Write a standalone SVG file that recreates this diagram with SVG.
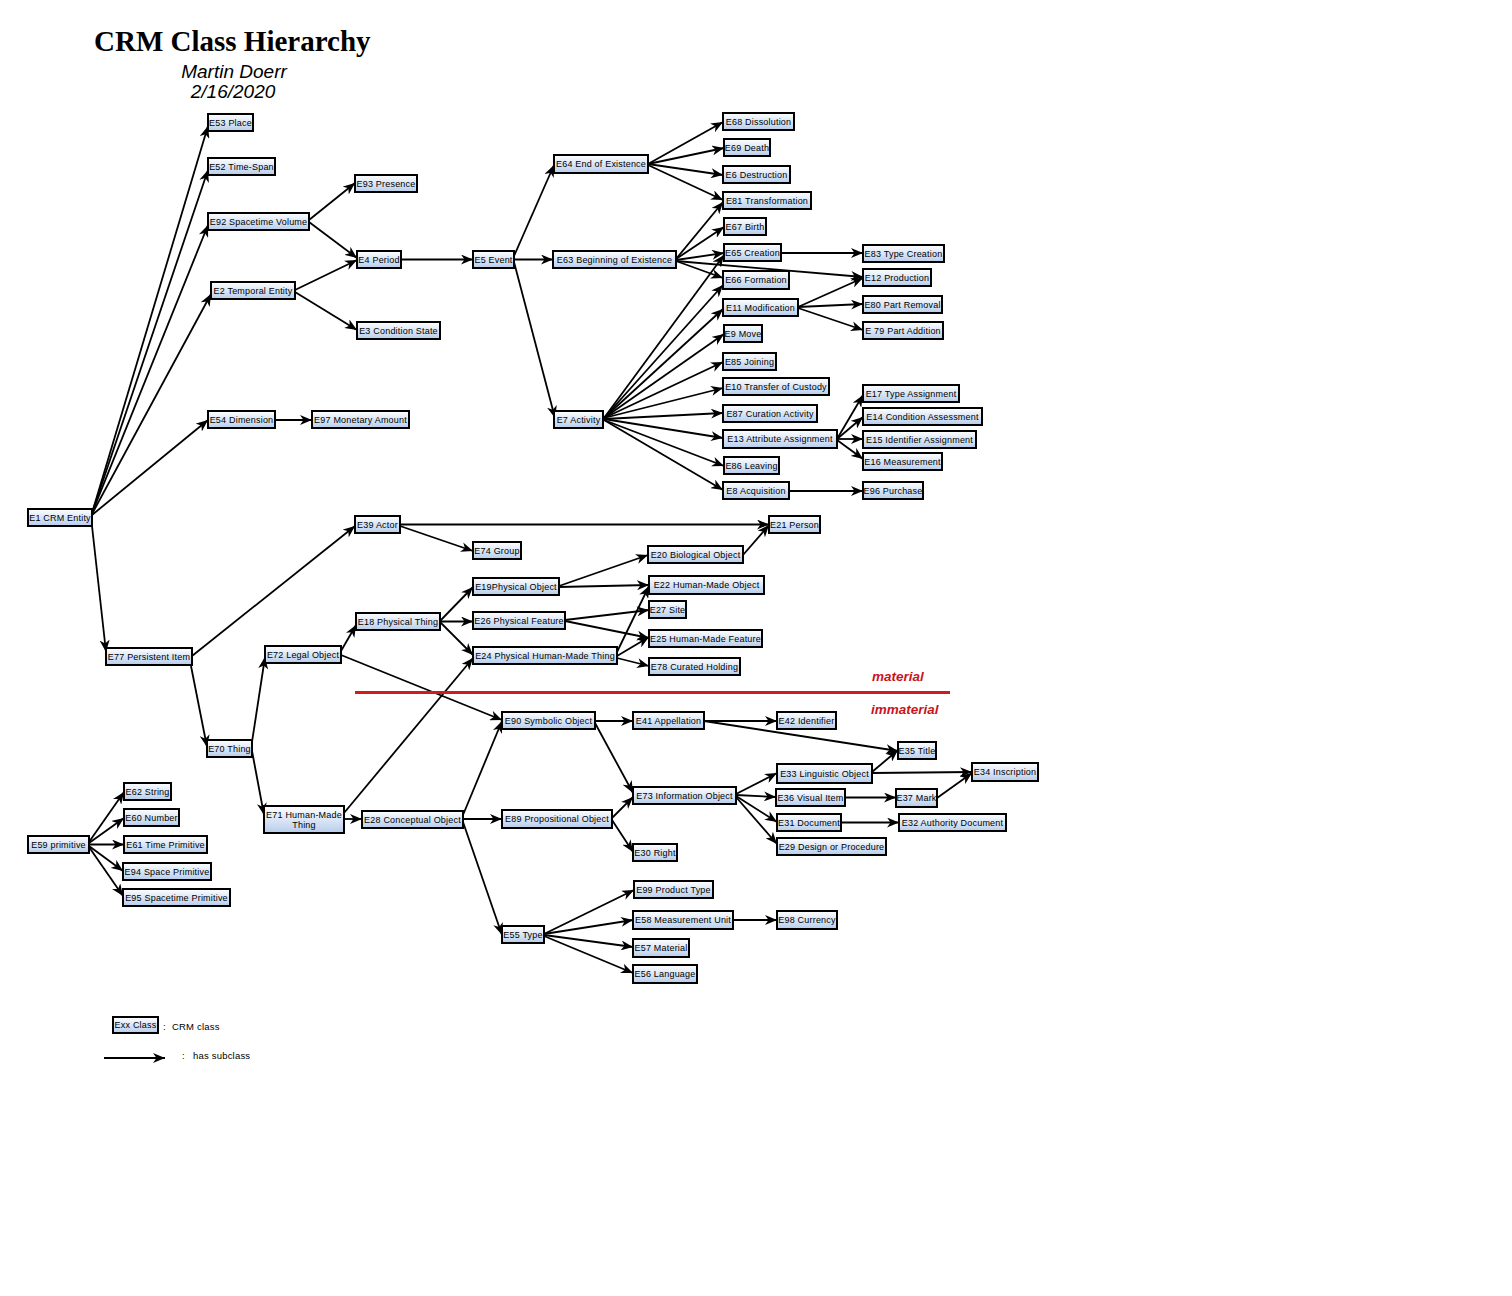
<svg xmlns="http://www.w3.org/2000/svg" width="1512" height="1296" viewBox="0 0 1512 1296">
<style>
.n rect{fill:url(#g);stroke:#000;stroke-width:2}
.n text,.lg{font-family:"Liberation Sans",Arial,sans-serif;font-size:9px;letter-spacing:0.2px;fill:#000;text-anchor:middle}
.lg{text-anchor:start;font-size:9.5px}
#connectors line,.ar{stroke:#000;stroke-width:1.8;fill:none;marker-end:url(#ah)}
.mat{font-family:"Liberation Sans",Arial,sans-serif;font-size:13.5px;font-weight:bold;font-style:italic;fill:#c8141c}
</style>
<defs>
<linearGradient id="g" x1="0" y1="0" x2="0" y2="1">
<stop offset="0" stop-color="#ffffff"/>
<stop offset="1" stop-color="#b7cdec"/>
</linearGradient>
<marker id="ah" viewBox="0 0 12 10" markerWidth="12" markerHeight="10" refX="12" refY="5" orient="auto" markerUnits="userSpaceOnUse">
<path d="M0,0 L12,5 L0,10 L3.5,5 z" fill="#000"/>
</marker>
</defs>
<rect width="1512" height="1296" fill="#fff"/>
<g id="title">
<text x="94" y="51" font-family="Liberation Serif,'Times New Roman',serif" font-size="29" font-weight="bold">CRM Class Hierarchy</text>
<text x="234" y="78" font-family="Liberation Sans,Arial,sans-serif" font-size="19" font-style="italic" text-anchor="middle">Martin Doerr</text>
<text x="233" y="98" font-family="Liberation Sans,Arial,sans-serif" font-size="19" font-style="italic" text-anchor="middle">2/16/2020</text>
</g>
<g id="connectors">
<line x1="92" y1="513" x2="208" y2="126"/>
<line x1="92" y1="513" x2="208" y2="170"/>
<line x1="92" y1="513" x2="208" y2="225"/>
<line x1="92" y1="514" x2="211" y2="294"/>
<line x1="92" y1="515" x2="208" y2="420"/>
<line x1="92" y1="526" x2="106" y2="652"/>
<line x1="309" y1="220" x2="355" y2="183"/>
<line x1="309" y1="222" x2="357" y2="258"/>
<line x1="295" y1="290" x2="357" y2="260"/>
<line x1="295" y1="292" x2="357" y2="330"/>
<line x1="401" y1="259.5" x2="473" y2="259.5"/>
<line x1="514" y1="256" x2="554" y2="165"/>
<line x1="514" y1="259.5" x2="553" y2="259.5"/>
<line x1="514" y1="262" x2="555" y2="418"/>
<line x1="648" y1="164" x2="723" y2="122"/>
<line x1="648" y1="164" x2="724" y2="148"/>
<line x1="648" y1="164" x2="723" y2="175"/>
<line x1="648" y1="165" x2="723" y2="200"/>
<line x1="676" y1="259" x2="723" y2="202"/>
<line x1="676" y1="259" x2="724" y2="227"/>
<line x1="676" y1="260" x2="724" y2="253"/>
<line x1="676" y1="261" x2="723" y2="278"/>
<line x1="676" y1="261" x2="863" y2="277"/>
<line x1="604" y1="418" x2="724" y2="255"/>
<line x1="604" y1="418" x2="723" y2="285"/>
<line x1="604" y1="418" x2="723" y2="309"/>
<line x1="604" y1="418" x2="724" y2="334"/>
<line x1="604" y1="418" x2="723" y2="362"/>
<line x1="604" y1="418" x2="723" y2="388"/>
<line x1="604" y1="419" x2="723" y2="413"/>
<line x1="604" y1="419" x2="723" y2="438"/>
<line x1="604" y1="420" x2="724" y2="466"/>
<line x1="604" y1="420" x2="723" y2="490"/>
<line x1="781" y1="253" x2="863" y2="253"/>
<line x1="798" y1="307" x2="863" y2="278"/>
<line x1="798" y1="307" x2="863" y2="304"/>
<line x1="798" y1="308" x2="863" y2="330"/>
<line x1="837" y1="439" x2="863" y2="395"/>
<line x1="837" y1="439" x2="863" y2="417"/>
<line x1="837" y1="439" x2="863" y2="439"/>
<line x1="837" y1="440" x2="863" y2="459"/>
<line x1="789" y1="491" x2="863" y2="491"/>
<line x1="275" y1="420" x2="312" y2="420"/>
<line x1="192" y1="656" x2="355" y2="526"/>
<line x1="191" y1="666" x2="207" y2="747"/>
<line x1="252" y1="742" x2="265" y2="657"/>
<line x1="252" y1="751" x2="264" y2="815"/>
<line x1="341" y1="651" x2="356" y2="625"/>
<line x1="341" y1="655" x2="502" y2="720"/>
<line x1="344" y1="813" x2="473" y2="658"/>
<line x1="344" y1="819" x2="362" y2="819"/>
<line x1="400" y1="524.5" x2="769" y2="524.5"/>
<line x1="400" y1="526" x2="473" y2="551"/>
<line x1="440" y1="621" x2="473" y2="587"/>
<line x1="440" y1="621.5" x2="473" y2="621.5"/>
<line x1="440" y1="622" x2="473" y2="655"/>
<line x1="559" y1="586" x2="648" y2="555"/>
<line x1="559" y1="587" x2="649" y2="585"/>
<line x1="565" y1="620" x2="649" y2="610"/>
<line x1="565" y1="621" x2="649" y2="638"/>
<line x1="617" y1="652" x2="649" y2="586"/>
<line x1="617" y1="656" x2="649" y2="637"/>
<line x1="617" y1="658" x2="649" y2="666"/>
<line x1="743" y1="555" x2="769" y2="525"/>
<line x1="463" y1="815" x2="502" y2="721"/>
<line x1="463" y1="819" x2="502" y2="819"/>
<line x1="463" y1="822" x2="502" y2="935"/>
<line x1="595" y1="721" x2="633" y2="721"/>
<line x1="595" y1="723" x2="633" y2="793"/>
<line x1="612" y1="818" x2="633" y2="797"/>
<line x1="612" y1="820" x2="633" y2="852"/>
<line x1="544" y1="934" x2="634" y2="890"/>
<line x1="544" y1="934" x2="633" y2="920"/>
<line x1="544" y1="935" x2="633" y2="947"/>
<line x1="544" y1="936" x2="633" y2="973"/>
<line x1="704" y1="721" x2="777" y2="721"/>
<line x1="704" y1="721" x2="898" y2="751"/>
<line x1="736" y1="794" x2="777" y2="773"/>
<line x1="736" y1="795" x2="776" y2="797"/>
<line x1="736" y1="796" x2="777" y2="822"/>
<line x1="736" y1="797" x2="777" y2="844"/>
<line x1="872" y1="772" x2="898" y2="750"/>
<line x1="872" y1="773" x2="972" y2="772"/>
<line x1="845" y1="797.5" x2="896" y2="797.5"/>
<line x1="937" y1="798" x2="972" y2="773"/>
<line x1="841" y1="822.5" x2="899" y2="822.5"/>
<line x1="733" y1="920" x2="777" y2="920"/>
<line x1="89" y1="842" x2="124" y2="792"/>
<line x1="89" y1="843" x2="124" y2="818"/>
<line x1="89" y1="844.5" x2="124" y2="844.5"/>
<line x1="89" y1="846" x2="123" y2="871"/>
<line x1="89" y1="847" x2="123" y2="896"/>
</g>
<g id="nodes">
<g id="E53" class="n"><rect x="208" y="114" width="45" height="17"/><text x="230.5" y="125.7">E53 Place</text></g>
<g id="E52" class="n"><rect x="208" y="158" width="67" height="17"/><text x="241.5" y="169.7">E52 Time-Span</text></g>
<g id="E92" class="n"><rect x="208" y="213" width="101" height="17"/><text x="258.5" y="224.7">E92 Spacetime Volume</text></g>
<g id="E2" class="n"><rect x="211" y="282" width="84" height="17"/><text x="253" y="293.7">E2 Temporal Entity</text></g>
<g id="E93" class="n"><rect x="355" y="175" width="62" height="17"/><text x="386" y="186.7">E93 Presence</text></g>
<g id="E4" class="n"><rect x="357" y="251" width="44" height="17"/><text x="379" y="262.7">E4 Period</text></g>
<g id="E3" class="n"><rect x="357" y="322" width="83" height="17"/><text x="398.5" y="333.7">E3 Condition State</text></g>
<g id="E5" class="n"><rect x="473" y="251" width="41" height="17"/><text x="493.5" y="262.7">E5 Event</text></g>
<g id="E64" class="n"><rect x="554" y="155" width="94" height="18"/><text x="601" y="167.2">E64 End of Existence</text></g>
<g id="E63" class="n"><rect x="553" y="251" width="123" height="17"/><text x="614.5" y="262.7">E63 Beginning of Existence</text></g>
<g id="E7" class="n"><rect x="554" y="411" width="49" height="17"/><text x="578.5" y="422.7">E7 Activity</text></g>
<g id="E54" class="n"><rect x="208" y="411" width="67" height="17"/><text x="241.5" y="422.7">E54 Dimension</text></g>
<g id="E97" class="n"><rect x="312" y="411" width="97" height="17"/><text x="360.5" y="422.7">E97 Monetary Amount</text></g>
<g id="E68" class="n"><rect x="723" y="113" width="71" height="17"/><text x="758.5" y="124.7">E68 Dissolution</text></g>
<g id="E69" class="n"><rect x="724" y="139" width="46" height="17"/><text x="747" y="150.7">E69 Death</text></g>
<g id="E6" class="n"><rect x="723" y="166" width="67" height="17"/><text x="756.5" y="177.7">E6 Destruction</text></g>
<g id="E81" class="n"><rect x="723" y="192" width="88" height="17"/><text x="767" y="203.7">E81 Transformation</text></g>
<g id="E67" class="n"><rect x="724" y="218" width="42" height="17"/><text x="745" y="229.7">E67 Birth</text></g>
<g id="E65" class="n"><rect x="724" y="244" width="57" height="17"/><text x="752.5" y="255.7">E65 Creation</text></g>
<g id="E66" class="n"><rect x="723" y="271" width="66" height="18"/><text x="756" y="283.2">E66 Formation</text></g>
<g id="E11" class="n"><rect x="723" y="299" width="75" height="17"/><text x="760.5" y="310.7">E11 Modification</text></g>
<g id="E9" class="n"><rect x="724" y="325" width="38" height="17"/><text x="743" y="336.7">E9 Move</text></g>
<g id="E85" class="n"><rect x="723" y="353" width="53" height="17"/><text x="749.5" y="364.7">E85 Joining</text></g>
<g id="E10" class="n"><rect x="723" y="378" width="106" height="17"/><text x="776" y="389.7">E10 Transfer of Custody</text></g>
<g id="E87" class="n"><rect x="723" y="405" width="94" height="17"/><text x="770" y="416.7">E87 Curation Activity</text></g>
<g id="E13" class="n"><rect x="723" y="430" width="114" height="18"/><text x="780" y="442.2">E13 Attribute Assignment</text></g>
<g id="E86" class="n"><rect x="724" y="457" width="55" height="17"/><text x="751.5" y="468.7">E86 Leaving</text></g>
<g id="E8" class="n"><rect x="723" y="482" width="66" height="17"/><text x="756" y="493.7">E8 Acquisition</text></g>
<g id="E83" class="n"><rect x="863" y="245" width="81" height="17"/><text x="903.5" y="256.7">E83 Type Creation</text></g>
<g id="E12" class="n"><rect x="863" y="269" width="68" height="17"/><text x="897" y="280.7">E12 Production</text></g>
<g id="E80" class="n"><rect x="863" y="296" width="79" height="17"/><text x="902.5" y="307.7">E80 Part Removal</text></g>
<g id="E79" class="n"><rect x="863" y="322" width="80" height="17"/><text x="903" y="333.7">E 79 Part Addition</text></g>
<g id="E17" class="n"><rect x="863" y="385" width="96" height="17"/><text x="911" y="396.7">E17 Type Assignment</text></g>
<g id="E14" class="n"><rect x="863" y="408" width="119" height="17"/><text x="922.5" y="419.7">E14 Condition Assessment</text></g>
<g id="E15" class="n"><rect x="863" y="431" width="113" height="17"/><text x="919.5" y="442.7">E15 Identifier Assignment</text></g>
<g id="E16" class="n"><rect x="863" y="453" width="79" height="17"/><text x="902.5" y="464.7">E16 Measurement</text></g>
<g id="E96" class="n"><rect x="863" y="482" width="60" height="17"/><text x="893" y="493.7">E96 Purchase</text></g>
<g id="E1" class="n"><rect x="28" y="509" width="64" height="17"/><text x="60" y="520.7">E1 CRM Entity</text></g>
<g id="E39" class="n"><rect x="355" y="516" width="45" height="17"/><text x="377.5" y="527.7">E39 Actor</text></g>
<g id="E21" class="n"><rect x="769" y="516" width="51" height="17"/><text x="794.5" y="527.7">E21 Person</text></g>
<g id="E74" class="n"><rect x="473" y="542" width="48" height="17"/><text x="497" y="553.7">E74 Group</text></g>
<g id="E20" class="n"><rect x="648" y="546" width="95" height="17"/><text x="695.5" y="557.7">E20 Biological Object</text></g>
<g id="E19" class="n"><rect x="473" y="578" width="86" height="17"/><text x="516" y="589.7">E19Physical Object</text></g>
<g id="E22" class="n"><rect x="649" y="576" width="115" height="18"/><text x="706.5" y="588.2">E22 Human-Made Object</text></g>
<g id="E27" class="n"><rect x="649" y="601" width="37" height="17"/><text x="667.5" y="612.7">E27 Site</text></g>
<g id="E18" class="n"><rect x="356" y="613" width="84" height="17"/><text x="398" y="624.7">E18 Physical Thing</text></g>
<g id="E26" class="n"><rect x="473" y="612" width="92" height="17"/><text x="519" y="623.7">E26 Physical Feature</text></g>
<g id="E25" class="n"><rect x="649" y="630" width="113" height="17"/><text x="705.5" y="641.7">E25 Human-Made Feature</text></g>
<g id="E72" class="n"><rect x="265" y="646" width="76" height="17"/><text x="303" y="657.7">E72 Legal Object</text></g>
<g id="E24" class="n"><rect x="473" y="647" width="144" height="17"/><text x="545" y="658.7">E24 Physical Human-Made Thing</text></g>
<g id="E77" class="n"><rect x="106" y="648" width="86" height="17"/><text x="149" y="659.7">E77 Persistent Item</text></g>
<g id="E78" class="n"><rect x="649" y="658" width="91" height="17"/><text x="694.5" y="669.7">E78 Curated Holding</text></g>
<g id="E90" class="n"><rect x="502" y="712" width="93" height="17"/><text x="548.5" y="723.7">E90 Symbolic Object</text></g>
<g id="E41" class="n"><rect x="633" y="712" width="71" height="17"/><text x="668.5" y="723.7">E41 Appellation</text></g>
<g id="E42" class="n"><rect x="777" y="712" width="59" height="17"/><text x="806.5" y="723.7">E42 Identifier</text></g>
<g id="E70" class="n"><rect x="207" y="740" width="45" height="17"/><text x="229.5" y="751.7">E70 Thing</text></g>
<g id="E35" class="n"><rect x="898" y="742" width="38" height="17"/><text x="917" y="753.7">E35 Title</text></g>
<g id="E33" class="n"><rect x="777" y="764" width="95" height="19"/><text x="824.5" y="776.7">E33 Linguistic Object</text></g>
<g id="E34" class="n"><rect x="972" y="763" width="66" height="18"/><text x="1005" y="775.2">E34 Inscription</text></g>
<g id="E62" class="n"><rect x="124" y="783" width="47" height="17"/><text x="147.5" y="794.7">E62 String</text></g>
<g id="E73" class="n"><rect x="633" y="787" width="103" height="17"/><text x="684.5" y="798.7">E73 Information Object</text></g>
<g id="E36" class="n"><rect x="776" y="789" width="69" height="17"/><text x="810.5" y="800.7">E36 Visual Item</text></g>
<g id="E37" class="n"><rect x="896" y="789" width="41" height="18"/><text x="916.5" y="801.2">E37 Mark</text></g>
<g id="E71" class="n"><rect x="264" y="806" width="80" height="27"/><text x="304" y="817.5">E71 Human-Made</text><text x="304" y="827.5">Thing</text></g>
<g id="E60" class="n"><rect x="124" y="809" width="55" height="17"/><text x="151.5" y="820.7">E60 Number</text></g>
<g id="E89" class="n"><rect x="502" y="810" width="110" height="18"/><text x="557" y="822.2">E89 Propositional Object</text></g>
<g id="E28" class="n"><rect x="362" y="811" width="101" height="17"/><text x="412.5" y="822.7">E28 Conceptual Object</text></g>
<g id="E31" class="n"><rect x="777" y="814" width="64" height="17"/><text x="809" y="825.7">E31 Document</text></g>
<g id="E32" class="n"><rect x="899" y="814" width="107" height="17"/><text x="952.5" y="825.7">E32 Authority Document</text></g>
<g id="E59" class="n"><rect x="28" y="836" width="61" height="17"/><text x="58.5" y="847.7">E59 primitive</text></g>
<g id="E61" class="n"><rect x="124" y="836" width="83" height="17"/><text x="165.5" y="847.7">E61 Time Primitive</text></g>
<g id="E29" class="n"><rect x="777" y="838" width="109" height="17"/><text x="831.5" y="849.7">E29 Design or Procedure</text></g>
<g id="E30" class="n"><rect x="633" y="844" width="44" height="17"/><text x="655" y="855.7">E30 Right</text></g>
<g id="E94" class="n"><rect x="123" y="863" width="88" height="17"/><text x="167" y="874.7">E94 Space Primitive</text></g>
<g id="E99" class="n"><rect x="634" y="881" width="79" height="17"/><text x="673.5" y="892.7">E99 Product Type</text></g>
<g id="E95" class="n"><rect x="123" y="889" width="107" height="17"/><text x="176.5" y="900.7">E95 Spacetime Primitive</text></g>
<g id="E58" class="n"><rect x="633" y="911" width="100" height="18"/><text x="683" y="923.2">E58 Measurement Unit</text></g>
<g id="E98" class="n"><rect x="777" y="911" width="60" height="18"/><text x="807" y="923.2">E98 Currency</text></g>
<g id="E55" class="n"><rect x="502" y="926" width="42" height="17"/><text x="523" y="937.7">E55 Type</text></g>
<g id="E57" class="n"><rect x="633" y="939" width="56" height="18"/><text x="661" y="951.2">E57 Material</text></g>
<g id="E56" class="n"><rect x="633" y="965" width="64" height="18"/><text x="665" y="977.2">E56 Language</text></g>
</g>
<g id="divider">
<line x1="355" y1="692.5" x2="950" y2="692.5" stroke="#d01c1c" stroke-width="3"/>
<text class="mat" x="872" y="681">material</text>
<text class="mat" x="871" y="714">immaterial</text>
</g>
<g id="legend">
<g class="n"><rect x="113" y="1017" width="45" height="16"/><text x="135.5" y="1028.2">Exx Class</text></g>
<text class="lg" y="1029.5"><tspan x="163">:</tspan><tspan x="172">CRM class</tspan></text>
<line class="ar" x1="104" y1="1058" x2="165" y2="1058"/>
<text class="lg" y="1059"><tspan x="182">:</tspan><tspan x="193">has subclass</tspan></text>
</g>
</svg>
